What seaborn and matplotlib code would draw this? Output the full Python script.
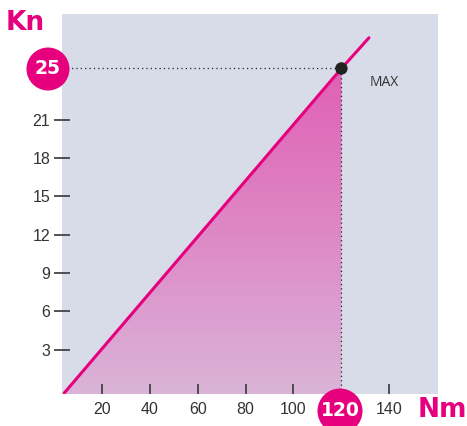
import numpy as np
import pandas as pd
import matplotlib
matplotlib.use("Agg")
import matplotlib.pyplot as plt
from matplotlib.patches import Ellipse
from matplotlib.colors import LinearSegmentedColormap
import seaborn as sns

# ---- data ----
line_x = [4.3, 120, 131.5]
line_y = [-0.4, 25, 27.4]
max_x = 120
max_y = 25
x_ticks = [20, 40, 60, 80, 100, 140]
x_tick_labels = ["20", "40", "60", "80", "100", "140"]
y_ticks = [3, 6, 9, 12, 15, 18, 21]
y_tick_labels = ["3", "6", "9", "12", "15", "18", "21"]
x_label = "Nm"
y_label = "Kn"

MAGENTA = "#e6007e"
BG = "#d8dce9"

sns.set_theme(style="white")
plt.rcParams['font.family'] = ['Liberation Sans', 'DejaVu Sans']

W, H = 467, 426
fig = plt.figure(figsize=(W / 100, H / 100), dpi=100)
ax = fig.add_axes([62 / W, 1 - 394 / H, (438 - 62) / W, (394 - 14) / H])
ax.set_facecolor(BG)
ax.set_axisbelow(False)
for s in ax.spines.values():
    s.set_visible(False)

ybot, ytop = -0.47, 29.26

# gradient fill under the line up to MAX
fx = np.array([line_x[0], max_x])
fy = np.array([line_y[0], max_y])
poly = ax.fill_between(fx, fy, ybot, color="none", lw=0)
cmap = LinearSegmentedColormap.from_list("g", ["#dab4d8", "#de88c6", "#e060b4"])
grad = np.linspace(0, 1, 256).reshape(-1, 1)
im = ax.imshow(grad, cmap=cmap, origin="lower", aspect="auto",
               extent=[line_x[0], max_x, ybot, max_y], zorder=1)
im.set_clip_path(poly.get_paths()[0], transform=ax.transData)

# line
df = pd.DataFrame({"x": line_x, "y": line_y})
sns.lineplot(data=df, x="x", y="y", ax=ax, color=MAGENTA, lw=2.2, zorder=3, sort=False)

# dotted guides
ax.plot([0, max_x], [max_y, max_y], color="#222222", lw=0.9, ls=(0, (1, 2.5)), zorder=2, clip_on=False)
ax.plot([max_x, max_x], [ybot, max_y], color="#222222", lw=0.9, ls=(0, (1, 2.5)), zorder=2)

# max point
sns.scatterplot(x=[max_x], y=[max_y], ax=ax, color="#222222", s=80, zorder=4, edgecolor="none")
ax.text(max_x + 18, max_y - 1.1, "MAX", fontsize=10, color="#333333",
        family=["Open Sans", "DejaVu Sans"], ha="center", va="center")

ax.set_xlim(3.4, 160.3)
ax.set_ylim(ybot, ytop)
ax.set_xticks(x_ticks)
ax.set_xticklabels(x_tick_labels)
ax.set_yticks(y_ticks)
ax.set_yticklabels(y_tick_labels)
ax.set_xlabel("")
ax.set_ylabel("")
ax.tick_params(axis="x", direction="in", length=7, width=1.3, color="#444444",
               labelsize=11.5, labelcolor="#333333", pad=6, bottom=True)
ax.tick_params(axis="y", direction="inout", length=12, width=1.3, color="#444444",
               labelsize=11.5, labelcolor="#333333", pad=2.5, left=True)

# circles with labels
def circ(cx, cy, d, txt, fs):
    e = Ellipse((cx / W, 1 - cy / H), d / W, d / H, transform=fig.transFigure,
                facecolor=MAGENTA, edgecolor="none", zorder=5)
    fig.patches.append(e)
    fig.text(cx / W, 1 - cy / H, txt, color="white", fontsize=fs, fontweight="bold",
             ha="center", va="center", family=["DejaVu Sans"], zorder=6)

circ(48, 69, 43, "25", 13.5)
circ(340, 411, 45, "120", 13.5)

fig.text(25 / W, 1 - 23 / H, y_label, color=MAGENTA, fontsize=19, fontweight="bold",
         ha="center", va="center", family=["DejaVu Sans"])
fig.text(442 / W, 1 - 410 / H, x_label, color=MAGENTA, fontsize=19, fontweight="bold",
         ha="center", va="center", family=["DejaVu Sans"])

fig.savefig("out.png", dpi=100)
